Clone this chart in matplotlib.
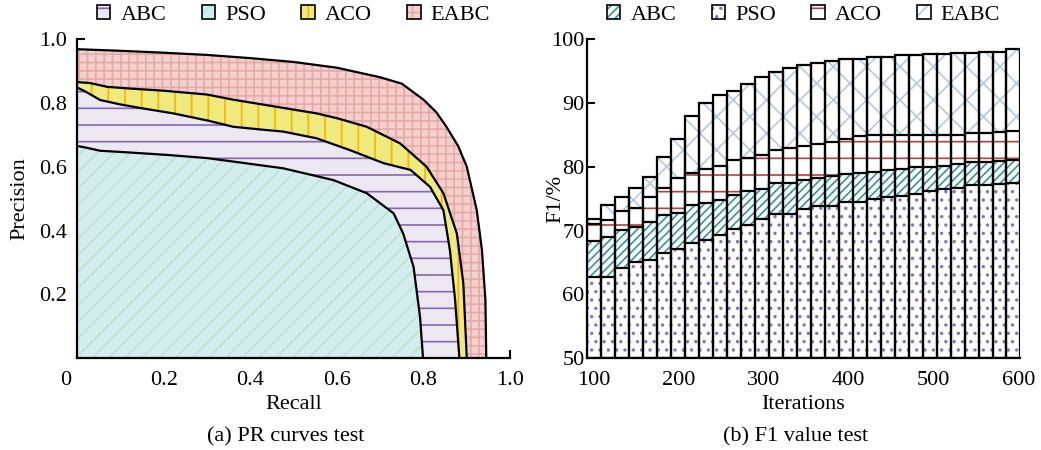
import numpy as np
import matplotlib
matplotlib.use("Agg")
import matplotlib.pyplot as plt
import matplotlib.transforms as mtransforms
from matplotlib.patches import Patch

plt.rcParams['font.family'] = ['Liberation Serif', 'DejaVu Serif']
plt.rcParams['font.size'] = 16
plt.rcParams['hatch.linewidth'] = 1.2

labels = ['ABC', 'PSO', 'ACO', 'EABC']

# (a) PR curves, recall / precision
abc_r = [0, 0.02, 0.053, 0.1, 0.15, 0.222, 0.3, 0.361, 0.42, 0.476, 0.553, 0.63, 0.708, 0.77, 0.815, 0.846, 0.861, 0.873, 0.883]
abc_p = [0.848, 0.835, 0.809, 0.795, 0.783, 0.767, 0.745, 0.725, 0.717, 0.71, 0.689, 0.652, 0.611, 0.59, 0.537, 0.464, 0.339, 0.183, 0.0]
pso_r = [0, 0.02, 0.053, 0.115, 0.207, 0.3, 0.361, 0.476, 0.592, 0.669, 0.731, 0.753, 0.777, 0.792, 0.799]
pso_p = [0.665, 0.66, 0.65, 0.645, 0.637, 0.627, 0.616, 0.595, 0.558, 0.517, 0.454, 0.391, 0.287, 0.130, 0.0]
aco_r = [0, 0.03, 0.07, 0.12, 0.2, 0.3, 0.36, 0.45, 0.553, 0.6, 0.669, 0.746, 0.807, 0.846, 0.877, 0.892, 0.9]
aco_p = [0.865, 0.862, 0.85, 0.845, 0.838, 0.826, 0.81, 0.79, 0.767, 0.752, 0.725, 0.673, 0.60, 0.517, 0.391, 0.235, 0.0]
eabc_r = [0, 0.1, 0.2, 0.3, 0.4, 0.5, 0.6, 0.7, 0.75, 0.8, 0.83, 0.853, 0.88, 0.9, 0.923, 0.935, 0.943, 0.945]
eabc_p = [0.968, 0.963, 0.957, 0.950, 0.940, 0.928, 0.91, 0.88, 0.86, 0.81, 0.77, 0.725, 0.665, 0.60, 0.464, 0.339, 0.183, 0.0]

# (b) F1 value (%) per iteration
iters = np.linspace(100.4, 594.2, 31)
f1_abc = [68.4, 69.0, 70.1, 70.5, 71.4, 72.5, 72.8, 74.0, 74.3, 74.8, 75.6, 76.2, 76.5, 77.4, 77.4, 77.9,
          78.3, 78.5, 78.8, 79.0, 79.2, 79.5, 79.7, 79.9, 80.0, 80.1, 80.4, 80.8, 80.8, 80.9, 81.1]
f1_pso = [62.8, 62.8, 64.1, 65.0, 65.4, 66.5, 67.1, 68.0, 68.5, 69.3, 70.3, 70.9, 71.8, 72.6, 72.6, 73.3,
          73.8, 73.8, 74.4, 74.5, 75.0, 75.3, 75.4, 75.7, 76.2, 76.5, 76.6, 77.1, 77.1, 77.3, 77.5]
f1_aco = [71.1, 71.6, 73.0, 73.5, 75.3, 76.6, 78.2, 79.0, 79.6, 80.1, 81.0, 81.4, 81.8, 82.6, 82.9, 83.2,
          83.6, 83.9, 84.3, 84.8, 85.0, 85.0, 85.0, 85.0, 85.0, 85.0, 85.0, 85.2, 85.2, 85.5, 85.6]
f1_eabc = [71.8, 74.0, 75.3, 76.7, 78.4, 81.5, 84.4, 87.9, 90.0, 91.2, 91.8, 92.9, 94.1, 94.8, 95.4, 96.0,
           96.3, 96.5, 96.8, 96.8, 97.2, 97.2, 97.5, 97.5, 97.6, 97.6, 97.8, 97.8, 98.0, 98.0, 98.4]

pr = {'ABC': (abc_r, abc_p), 'PSO': (pso_r, pso_p), 'ACO': (aco_r, aco_p), 'EABC': (eabc_r, eabc_p)}
f1 = {'ABC': f1_abc, 'PSO': f1_pso, 'ACO': f1_aco, 'EABC': f1_eabc}

# face colour, hatch colour, hatch
pr_style = {'ABC': ('#ece7f1', '#8467b0', '-'),
            'PSO': ('#d3ecee', '#b8e6cc', '//'),
            'ACO': ('#eeea7e', '#f6b400', '|'),
            'EABC': ('#f3d0cd', '#e6a9a6', '++')}
bar_style = {'ABC': ('white', '#2f95a3', '////'),
             'PSO': ('white', '#8a70b4', '..'),
             'ACO': ('white', '#b5403a', '-'),
             'EABC': ('white', '#b4c8e2', 'x')}
draw_order = ['EABC', 'ACO', 'ABC', 'PSO']

fig = plt.figure(figsize=(10.41, 4.5), dpi=100)
ax1 = fig.add_axes([0.074, 0.2038, 0.416, 0.7096])
ax2 = fig.add_axes([0.5636, 0.2038, 0.4167, 0.7096])

# --- (a) PR curves
for i, name in enumerate(draw_order):
    r, p = pr[name]
    fc, hc, hatch = pr_style[name]
    z = 2 + i
    ax1.fill(np.r_[0, r], np.r_[0, p], facecolor=fc, edgecolor=hc, hatch=hatch, linewidth=0, zorder=z)
    ax1.plot(r, p, color='k', lw=1.6, zorder=z + 0.5)

ax1.set_xlim(0, 1)
ax1.set_ylim(0, 1)
ax1.set_xticks([0, 0.2, 0.4, 0.6, 0.8, 1.0])
ax1.set_xticklabels(['0', '0.2', '0.4', '0.6', '0.8', '1.0'])
ax1.set_yticks([0.2, 0.4, 0.6, 0.8, 1.0])
ax1.set_yticklabels(['0.2', '0.4', '0.6', '0.8', '1.0'])
ax1.set_xlabel('Recall')
ax1.set_ylabel('Precision')
ax1.xaxis.set_label_coords(0.5, -0.115)
ax1.yaxis.set_label_coords(-0.11, 0.5)

# --- (b) F1 bars, overlapping from baseline 50
w = iters[1] - iters[0]
for i, name in enumerate(draw_order):
    vals = np.array(f1[name])
    fc, hc, hatch = bar_style[name]
    z = 2 + i
    ax2.bar(iters, vals - 50, bottom=50, width=w, color=fc, edgecolor=hc, hatch=hatch, linewidth=0, zorder=z)
    ax2.bar(iters, vals - 50, bottom=50, width=w, fill=False, edgecolor='k', linewidth=1.6, zorder=z + 0.5)

ax2.set_xlim(iters[0] - w / 2, iters[-1] + w / 2)
ax2.set_ylim(50, 100)
ax2.set_xticks([100, 200, 300, 400, 500, 600])
ax2.set_yticks([50, 60, 70, 80, 90, 100])
ax2.set_xlabel('Iterations')
ax2.set_ylabel('F1/%')
ax2.xaxis.set_label_coords(0.5, -0.115)
ax2.yaxis.set_label_coords(-0.05, 0.5)

for ax, style, ypad in [(ax1, pr_style, 7), (ax2, bar_style, 1.5)]:
    for s in ['top', 'right']:
        ax.spines[s].set_visible(False)
    for s in ['left', 'bottom']:
        ax.spines[s].set_linewidth(1.6)
        ax.spines[s].set_zorder(10)
    ax.tick_params(direction='in', length=6, width=1.5)
    ax.tick_params(axis='x', pad=9)
    ax.tick_params(axis='y', pad=ypad)
    handles = []
    for name in labels:
        fc, hc, hatch = style[name]
        handles.append((Patch(facecolor=fc, edgecolor=hc, hatch=hatch, linewidth=0),
                        Patch(fill=False, edgecolor='k', linewidth=1.2)))
    ax.legend(handles, labels, loc='center', bbox_to_anchor=(0.5, 1.075), ncol=4, frameon=False,
              handlelength=0.6, handleheight=0.6, handletextpad=0.45, columnspacing=1.6,
              borderaxespad=0, borderpad=0)

# the origin label sits left of the corner in the reference
lbl0 = ax1.get_xticklabels()[0]
lbl0.set_transform(lbl0.get_transform() + mtransforms.ScaledTranslation(-8 / 72, 0, fig.dpi_scale_trans))

fig.text(0.274, 0.029, '(a) PR curves test', ha='center', va='center')
fig.text(0.764, 0.029, '(b) F1 value test', ha='center', va='center')

fig.savefig('out.png', dpi=100)
